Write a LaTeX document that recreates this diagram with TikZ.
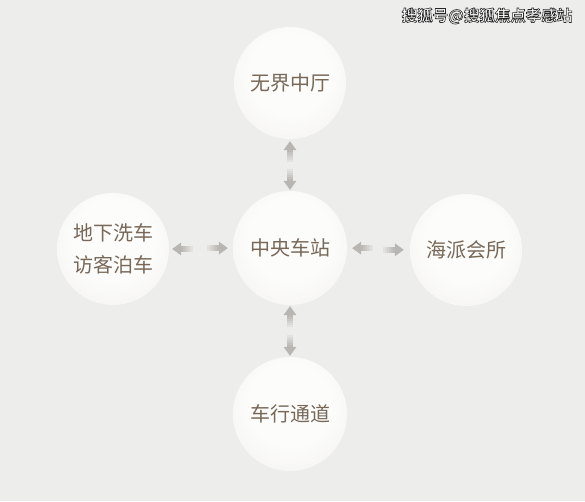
\documentclass[tikz,border=0pt]{standalone}
\usepackage{fontspec}
\newfontfamily\cjk{Noto Sans CJK SC}
\newfontfamily\cjkb{Noto Sans CJK SC Bold}
\usetikzlibrary{calc}
\definecolor{bg}{HTML}{EDEDEC}
\definecolor{ink}{HTML}{786858}
\definecolor{arr}{HTML}{B8B6B2}
\definecolor{sphA}{HTML}{FCFCFB}
\definecolor{sphB}{HTML}{F3F2F0}
\definecolor{sphC}{HTML}{E6E4E1}
\definecolor{sphD}{HTML}{D9D7D3}
\pgfdeclareradialshading{sphere}{\pgfpoint{0bp}{6bp}}{color(0bp)=(sphA); color(18bp)=(sphA); color(36bp)=(sphB); color(48bp)=(sphC); color(56bp)=(sphD); color(60bp)=(sphD)}
\tikzset{
  ball/.style={circle, minimum size=112pt, inner sep=0pt, shading=sphere,
    font=\cjk\fontsize{20}{32}\selectfont, text=ink, align=center},
  halfarrow/.pic={
    \fill[arr] (0,0) -- (-9,6.5) -- (-9,-6.5) -- cycle;
    \foreach \i in {0,...,5}{
      \pgfmathtruncatemacro\p{95-15*\i}
      \fill[arr!\p!bg] (-8.7-2*\i,-3) rectangle (-11-2*\i,3);
    }
  },
  wm/.style={font=\cjkb\fontsize{15.5}{18}\selectfont, text=white}
}
\begin{document}
\begin{tikzpicture}[x=1pt,y=-1pt]
\useasboundingbox[fill=bg] (0,0) rectangle (585,501);
\node[ball] (top) at (290,83) {无界中厅};
\node[ball, minimum size=114pt] (ctr) at (290,248) {中央车站};
\node[ball, minimum size=114pt] (bot) at (290,414) {车行通道};
\node[ball] (lft) at (113,249) {地下洗车\\访客泊车};
\node[ball] (rgt) at (466,250) {海派会所};
% arrows
\pic[rotate=90] at ($(top.south)!2pt!(ctr.north)$) {halfarrow};
\pic[rotate=-90] at ($(ctr.north)!1pt!(top.south)$) {halfarrow};
\pic[rotate=90] at ($(ctr.south)!1pt!(bot.north)$) {halfarrow};
\pic[rotate=-90] at ($(bot.north)!1pt!(ctr.south)$) {halfarrow};
\pic[rotate=180] at ($(lft.east)!3pt!(ctr.west)$) {halfarrow};
\pic[rotate=0] at ($(ctr.west)!5pt!(lft.east)$) {halfarrow};
\pic[rotate=180] at ($(ctr.east)!5pt!(rgt.west)$) {halfarrow};
\pic[rotate=0] at ($(rgt.west)!6pt!(ctr.east)$) {halfarrow};
% watermark: white text, dark outline (fill+stroke render mode)
\node[wm] (wmt) at (487,16) {\special{pdf:literal 2 Tr 0.6 w 0.15 0.15 0.15 RG}搜狐号@搜狐焦点孝感站\special{pdf:literal 0 Tr}};
\end{tikzpicture}
\end{document}
